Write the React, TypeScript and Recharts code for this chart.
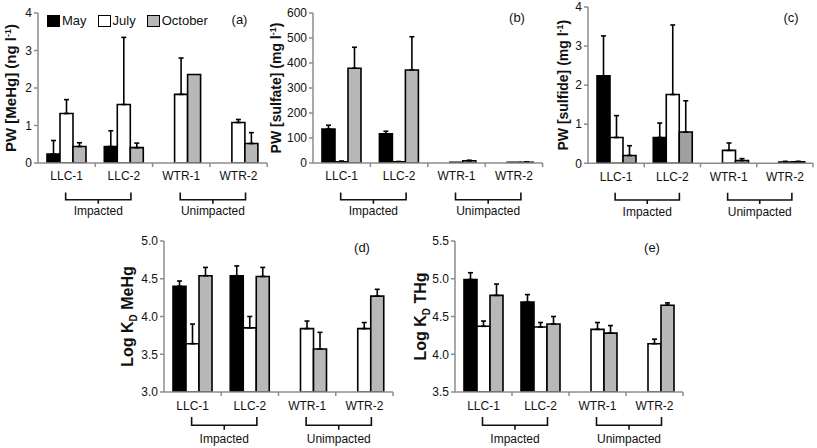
import React from 'react';
import { BarChart, Bar, XAxis, YAxis, ErrorBar, Legend } from 'recharts';

type Num = number | null;

const sites = ['LLC-1', 'LLC-2', 'WTR-1', 'WTR-2'];
const groups = ['Impacted', 'Unimpacted'];
const months = ['May', 'July', 'October'];

// (a) PW MeHg, ng/l
const meHgMay: Num[] = [0.24, 0.44, null, null];
const meHgMayErr: Num[] = [0.36, 0.42, null, null];
const meHgJul: Num[] = [1.32, 1.56, 1.83, 1.08];
const meHgJulErr: Num[] = [0.37, 1.79, 0.97, 0.08];
const meHgOct: Num[] = [0.44, 0.41, 2.36, 0.52];
const meHgOctErr: Num[] = [0.1, 0.12, null, 0.29];

// (b) PW sulfate, mg/l
const sulfateMay: Num[] = [136, 117, null, null];
const sulfateMayErr: Num[] = [15, 10, null, null];
const sulfateJul: Num[] = [5, 5, 3, 3];
const sulfateJulErr: Num[] = [3, 1, null, null];
const sulfateOct: Num[] = [379, 372, 9, 3];
const sulfateOctErr: Num[] = [84, 133, 2, 1];

// (c) PW sulfide, mg/l
const sulfideMay: Num[] = [2.24, 0.66, null, null];
const sulfideMayErr: Num[] = [1.02, 0.37, null, null];
const sulfideJul: Num[] = [0.66, 1.76, 0.33, 0.03];
const sulfideJulErr: Num[] = [0.56, 1.78, 0.19, 0.02];
const sulfideOct: Num[] = [0.2, 0.8, 0.07, 0.04];
const sulfideOctErr: Num[] = [0.25, 0.8, 0.05, 0.01];

// (d) log KD MeHg
const kdMeHgMay: Num[] = [4.4, 4.54, null, null];
const kdMeHgMayErr: Num[] = [0.07, 0.13, null, null];
const kdMeHgJul: Num[] = [3.64, 3.85, 3.84, 3.84];
const kdMeHgJulErr: Num[] = [0.26, 0.15, 0.1, 0.08];
const kdMeHgOct: Num[] = [4.54, 4.53, 3.57, 4.27];
const kdMeHgOctErr: Num[] = [0.11, 0.12, 0.22, 0.09];

// (e) log KD THg
const kdTHgMay: Num[] = [4.99, 4.69, null, null];
const kdTHgMayErr: Num[] = [0.09, 0.1, null, null];
const kdTHgJul: Num[] = [4.37, 4.36, 4.33, 4.14];
const kdTHgJulErr: Num[] = [0.07, 0.06, 0.09, 0.06];
const kdTHgOct: Num[] = [4.78, 4.4, 4.28, 4.65];
const kdTHgOctErr: Num[] = [0.15, 0.1, 0.1, 0.03];

const ticksA = [0, 1, 2, 3, 4];
const ticksB = [0, 100, 200, 300, 400, 500, 600];
const ticksC = [0, 1, 2, 3, 4];
const ticksD = [3, 3.5, 4, 4.5, 5];
const ticksE = [3.5, 4, 4.5, 5, 5.5];

const AXIS = '#8c8c8c';
const INK = '#111';
const FONT = '"Liberation Sans", Arial, sans-serif';
const Y_W = 70;
const M_TOP = 10;
const X_H = 62;

const err = (v: Num, e: Num) => (v == null || e == null ? null : [0, e]);

const buildRows = (may: Num[], mayE: Num[], jul: Num[], julE: Num[], oct: Num[], octE: Num[]) =>
  sites.map((site, i) => ({
    site,
    may: may[i],
    mayErr: err(may[i], mayE[i]),
    july: jul[i],
    julyErr: err(jul[i], julE[i]),
    october: oct[i],
    octoberErr: err(oct[i], octE[i]),
  }));

type Bracket = { label: number; top: number; bar: number; stem: number; text: number };
const topRow: Bracket = { label: 13.5, top: 29.4, bar: 36.7, stem: 40.7, text: 48.4 };
const bottomRow: Bracket = { label: 14, top: 25, bar: 33.2, stem: 37.8, text: 47 };

const SiteTick = (props: any) => {
  const { x, y, payload, index, band, br } = props;
  const bx1 = x - 1;
  const bx2 = x + band + 7;
  const mid = (bx1 + bx2) / 2;
  return (
    <g fontFamily={FONT}>
      <line x1={x + band / 2} x2={x + band / 2} y1={y} y2={y + 4} stroke={AXIS} strokeWidth={1.5} />
      <text x={x} y={y + br.label + 4} textAnchor="middle" fontSize={12} fill={INK}>
        {payload.value}
      </text>
      {index % 2 === 0 && (
        <g>
          <path
            d={`M${bx1},${y + br.top} V${y + br.bar} H${bx2} V${y + br.top}`}
            fill="none"
            stroke={INK}
            strokeWidth={1.6}
          />
          <line x1={mid} x2={mid} y1={y + br.bar} y2={y + br.stem} stroke={INK} strokeWidth={1.6} />
          <text x={mid} y={y + br.text + 4} textAnchor="middle" fontSize={12} fill={INK}>
            {groups[index / 2]}
          </text>
        </g>
      )}
    </g>
  );
};

const legendContent = (p: any) => {
  const items = [...(p.payload || [])].sort(
    (a: any, b: any) => months.indexOf(a.value) - months.indexOf(b.value)
  );
  return (
    <div style={{ display: 'flex', alignItems: 'center', fontFamily: FONT, fontSize: 13, color: INK, lineHeight: '15px' }}>
      {items.map((e: any, i: number) => (
        <div key={i} style={{ display: 'flex', alignItems: 'center', marginRight: 11 }}>
          <span
            style={{
              display: 'inline-block',
              width: 13,
              height: 12,
              boxSizing: 'border-box',
              border: '1.5px solid #000',
              background: e.color,
              marginRight: 2,
            }}
          />
          <span>{e.value}</span>
        </div>
      ))}
    </div>
  );
};

type PanelProps = {
  x0: number;
  y0: number;
  plotW: number;
  plotH: number;
  rows: any[];
  domain: [number, number];
  ticks: number[];
  fmt?: (v: number) => string;
  yLabel: React.ReactNode;
  labelX: number;
  labelSize: number;
  tag: string;
  tagX: number;
  tagY: number;
  octFill: string;
  br: Bracket;
  legend?: boolean;
};

const Panel = (p: PanelProps) => {
  const band = p.plotW / 4;
  const left = p.x0 - Y_W;
  const top = p.y0 - M_TOP;
  const width = Y_W + p.plotW + 10;
  const height = M_TOP + p.plotH + X_H;
  const cx = p.labelX - left + p.labelSize * 0.36;
  const cy = M_TOP + p.plotH / 2;
  return (
    <>
      <div style={{ position: 'absolute', left, top, width, height }}>
        <BarChart
          width={width}
          height={height}
          data={p.rows}
          margin={{ top: M_TOP, right: 10, bottom: 0, left: 0 }}
          barCategoryGap={9}
          barGap={0}
        >
          <XAxis
            dataKey="site"
            interval={0}
            height={X_H}
            tickSize={0}
            tickMargin={0}
            tickLine={false}
            axisLine={{ stroke: AXIS, strokeWidth: 1.5 }}
            tick={(t: any) => <SiteTick {...t} band={band} br={p.br} />}
          />
          <YAxis
            type="number"
            width={Y_W}
            domain={p.domain}
            ticks={p.ticks}
            interval={0}
            allowDataOverflow
            tickSize={4}
            tickLine={{ stroke: AXIS, strokeWidth: 1.5 }}
            axisLine={{ stroke: AXIS, strokeWidth: 1.5 }}
            tick={{ fill: INK, fontSize: 12, fontFamily: FONT }}
            tickFormatter={p.fmt}
            label={() => (
              <text
                x={cx}
                y={cy}
                transform={`rotate(-90, ${cx}, ${cy})`}
                textAnchor="middle"
                fontFamily={FONT}
                fontWeight="bold"
                fontSize={p.labelSize}
                fill={INK}
              >
                {p.yLabel}
              </text>
            )}
          />
          {p.legend && (
            <Legend
              layout="horizontal"
              verticalAlign="middle"
              align="center"
              wrapperStyle={{ top: 13.5 - top, left: 47 - left, width: 'auto' }}
              content={legendContent}
            />
          )}
          <Bar dataKey="may" name={months[0]} fill="#000" stroke="#000" strokeWidth={1.6} isAnimationActive={false}>
            <ErrorBar dataKey="mayErr" direction="y" width={2.5} strokeWidth={1.6} stroke="#000" />
          </Bar>
          <Bar dataKey="july" name={months[1]} fill="#fff" stroke="#000" strokeWidth={1.6} isAnimationActive={false}>
            <ErrorBar dataKey="julyErr" direction="y" width={2.5} strokeWidth={1.6} stroke="#000" />
          </Bar>
          <Bar dataKey="october" name={months[2]} fill={p.octFill} stroke="#000" strokeWidth={1.6} isAnimationActive={false}>
            <ErrorBar dataKey="octoberErr" direction="y" width={2.5} strokeWidth={1.6} stroke="#000" />
          </Bar>
        </BarChart>
      </div>
      <div
        style={{
          position: 'absolute',
          left: p.tagX - 20,
          top: p.tagY - 8,
          width: 40,
          textAlign: 'center',
          fontFamily: FONT,
          fontSize: 13,
          lineHeight: '16px',
          color: INK,
        }}
      >
        {p.tag}
      </div>
    </>
  );
};

const sup = (
  <>
    <tspan dy={-5} fontSize={9}>-1</tspan>
    <tspan dy={5}>)</tspan>
  </>
);

export default function App() {
  const fmt1 = (v: number) => v.toFixed(1);
  return (
    <div
      style={{
        position: 'absolute',
        left: 0,
        top: 0,
        width: 817,
        height: 448,
        overflow: 'hidden',
        background: '#fff',
      }}
    >
      <Panel
        x0={38.3}
        y0={13.3}
        plotW={229.2}
        plotH={150}
        rows={buildRows(meHgMay, meHgMayErr, meHgJul, meHgJulErr, meHgOct, meHgOctErr)}
        domain={[0, 4]}
        ticks={ticksA}
        yLabel={<>PW [MeHg] (ng l{sup}</>}
        labelX={11}
        labelSize={15}
        tag="(a)"
        tagX={239.5}
        tagY={20}
        octFill="#b8b8b8"
        br={topRow}
        legend
      />
      <Panel
        x0={313.3}
        y0={13.3}
        plotW={229.6}
        plotH={150}
        rows={buildRows(sulfateMay, sulfateMayErr, sulfateJul, sulfateJulErr, sulfateOct, sulfateOctErr)}
        domain={[0, 600]}
        ticks={ticksB}
        yLabel={<>PW [sulfate] (mg l{sup}</>}
        labelX={276.7}
        labelSize={14}
        tag="(b)"
        tagX={517}
        tagY={18}
        octFill="#b8b8b8"
        br={topRow}
      />
      <Panel
        x0={588}
        y0={7}
        plotW={225}
        plotH={156.3}
        rows={buildRows(sulfideMay, sulfideMayErr, sulfideJul, sulfideJulErr, sulfideOct, sulfideOctErr)}
        domain={[0, 4]}
        ticks={ticksC}
        yLabel={<>PW [sulfide] (mg l{sup}</>}
        labelX={562.5}
        labelSize={14}
        tag="(c)"
        tagX={791}
        tagY={18}
        octFill="#a0a0a0"
        br={topRow}
      />
      <Panel
        x0={164}
        y0={241}
        plotW={229}
        plotH={151}
        rows={buildRows(kdMeHgMay, kdMeHgMayErr, kdMeHgJul, kdMeHgJulErr, kdMeHgOct, kdMeHgOctErr)}
        domain={[3, 5]}
        ticks={ticksD}
        fmt={fmt1}
        yLabel={
          <>
            Log K<tspan dy={4} fontSize={10}>D</tspan>
            <tspan dy={-4}> MeHg</tspan>
          </>
        }
        labelX={127}
        labelSize={16}
        tag="(d)"
        tagX={362}
        tagY={248}
        octFill="#b8b8b8"
        br={bottomRow}
      />
      <Panel
        x0={455}
        y0={241}
        plotW={228}
        plotH={151}
        rows={buildRows(kdTHgMay, kdTHgMayErr, kdTHgJul, kdTHgJulErr, kdTHgOct, kdTHgOctErr)}
        domain={[3.5, 5.5]}
        ticks={ticksE}
        fmt={fmt1}
        yLabel={
          <>
            Log K<tspan dy={4} fontSize={10}>D</tspan>
            <tspan dy={-4}> THg</tspan>
          </>
        }
        labelX={420}
        labelSize={16}
        tag="(e)"
        tagX={652}
        tagY={248}
        octFill="#b8b8b8"
        br={bottomRow}
      />
    </div>
  );
}
